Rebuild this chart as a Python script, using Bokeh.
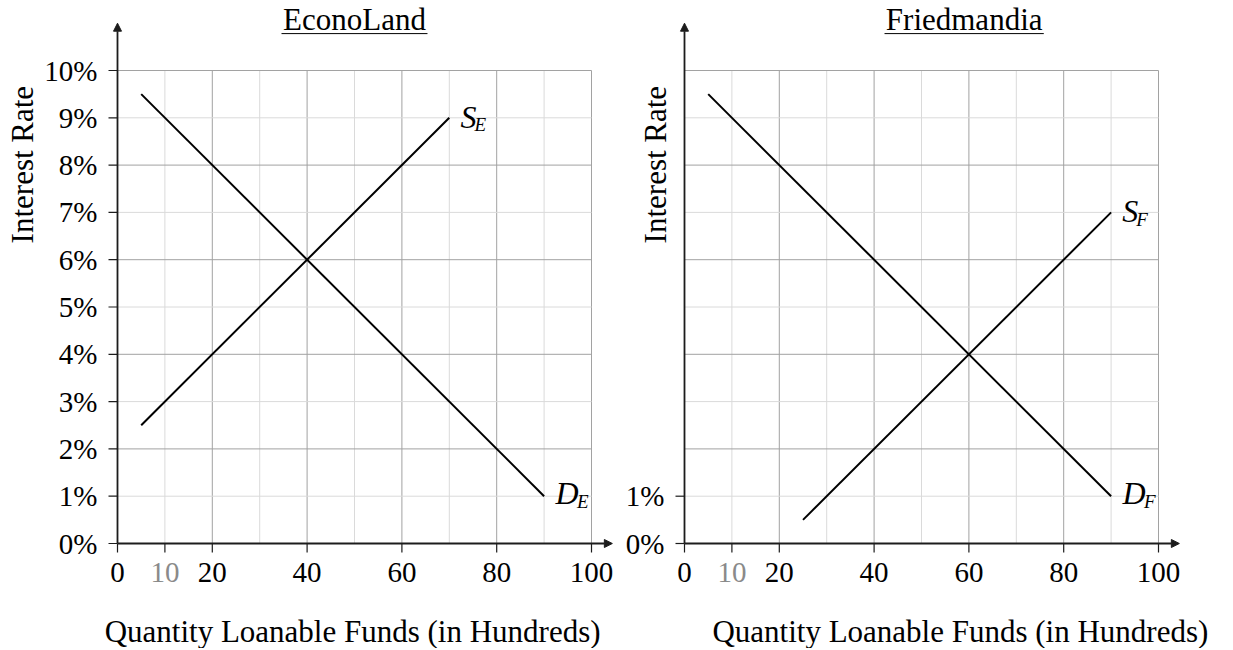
from bokeh.plotting import figure
from bokeh.models import Label, Arrow, NormalHead, Range1d, Grid
from bokeh.embed import file_html
from bokeh.resources import INLINE
from bokeh.core.properties import value

# ---------------- data ----------------
x_ticks = [0, 10, 20, 40, 60, 80, 100]
x_tick_labels = ["0", "10", "20", "40", "60", "80", "100"]
econ_y_ticks = [0, 1, 2, 3, 4, 5, 6, 7, 8, 9, 10]
econ_y_labels = ["0%", "1%", "2%", "3%", "4%", "5%", "6%", "7%", "8%", "9%", "10%"]
fried_y_ticks = [0, 1]
fried_y_labels = ["0%", "1%"]

grid_x_minor = [10, 30, 50, 70, 90]
grid_x_major = [20, 40, 60, 80, 100]
grid_y_minor = [1, 3, 5, 7, 9]
grid_y_major = [2, 4, 6, 8, 10]

econ_demand_q = [5, 90]
econ_demand_r = [9.5, 1]
econ_supply_q = [5, 70]
econ_supply_r = [2.5, 9]

fried_demand_q = [5, 90]
fried_demand_r = [9.5, 1]
fried_supply_q = [25, 90]
fried_supply_r = [0.5, 7]

# ---------------- layout / style ----------------
FONT = "Liberation Serif"
W, H = 1228, 648
PX_X = 4.74          # pixels per quantity unit
PX_Y = 47.3          # pixels per percentage point
LEFT_ORIGIN_X = 117  # canvas x of quantity 0, EconoLand
RIGHT_ORIGIN_X = 684 # canvas x of quantity 0, Friedmandia
ORIGIN_Y = 543       # canvas y of 0%
MAJOR = "#a2a2a2"
MINOR = "#dadada"
INK = "#1c1c1c"

p = figure(width=W, height=H,
           x_range=Range1d(-LEFT_ORIGIN_X / PX_X, (W - LEFT_ORIGIN_X) / PX_X),
           y_range=Range1d(-(H - ORIGIN_Y) / PX_Y, ORIGIN_Y / PX_Y),
           x_axis_type=None, y_axis_type=None, min_border=0,
           toolbar_location=None, output_backend="svg")
p.extra_x_ranges = {"fried": Range1d(-RIGHT_ORIGIN_X / PX_X, (W - RIGHT_ORIGIN_X) / PX_X)}
p.outline_line_color = None
p.background_fill_color = "white"
p.border_fill_color = "white"
for r in list(p.center) + list(p.below) + list(p.left):
    if isinstance(r, Grid):
        r.visible = False


def label(rn, x, y, text, size, align="center", italic=False, angle=0.0, color="black"):
    p.add_layout(Label(x=x, y=y, text=text, x_range_name=rn, text_align=align,
                       text_baseline="middle", text_font=FONT, text_font_size=size,
                       text_font_style="italic" if italic else "normal",
                       text_color=color, angle=angle))


def panel(rn, title, title_x, title_half, xlabel_x, ylabel_x, y_ticks, y_labels,
          demand, supply, sub):
    xmax = max(grid_x_major)
    ymax = max(grid_y_major)
    # grid
    for xs, col in ((grid_x_minor, MINOR), (grid_x_major, MAJOR)):
        p.segment(x0=xs, y0=[0] * len(xs), x1=xs, y1=[ymax] * len(xs),
                  line_color=col, line_width=1, x_range_name=rn)
    for ys, col in ((grid_y_minor, MINOR), (grid_y_major, MAJOR)):
        p.segment(x0=[0] * len(ys), y0=ys, x1=[xmax] * len(ys), y1=ys,
                  line_color=col, line_width=1, x_range_name=rn)

    # supply / demand curves
    dq, dr = demand
    sq, sr = supply
    p.line(dq, dr, line_color="black", line_width=2, x_range_name=rn)
    p.line(sq, sr, line_color="black", line_width=2, x_range_name=rn)

    # axes with arrow heads
    p.add_layout(Arrow(end=NormalHead(size=8, fill_color=INK, line_color=INK, line_width=1),
                       x_start=0, y_start=0, x_end=104.4, y_end=0, x_range_name=rn,
                       line_color=INK, line_width=1.8))
    p.add_layout(Arrow(end=NormalHead(size=8, fill_color=INK, line_color=INK, line_width=1),
                       x_start=0, y_start=0, x_end=0, y_end=11.0, x_range_name=rn,
                       line_color=INK, line_width=1.8))

    # tick marks
    tick_x = 9 / PX_X
    tick_y = 9 / PX_Y
    p.segment(x0=x_ticks, y0=[0] * len(x_ticks), x1=x_ticks, y1=[-tick_y] * len(x_ticks),
              line_color=INK, line_width=1.2, x_range_name=rn)
    p.segment(x0=[0] * len(y_ticks), y0=y_ticks, x1=[-tick_x] * len(y_ticks), y1=y_ticks,
              line_color=INK, line_width=1.2, x_range_name=rn)

    # tick labels
    colors = ["#8a8a8a" if t == 10 else "black" for t in x_ticks]
    p.text(x=x_ticks, y=[-29 / PX_Y] * len(x_ticks), text=x_tick_labels,
           text_align="center", text_baseline="middle", text_font=value(FONT),
           text_font_size=value("29px"), text_color=colors, x_range_name=rn)
    p.text(x=[-20 / PX_X] * len(y_ticks), y=y_ticks, text=y_labels,
           text_align="right", text_baseline="middle", text_font=value(FONT),
           text_font_size=value("29px"), text_color="black", x_range_name=rn)

    # panel title (underlined)
    label(rn, title_x, 11.08, title, "31px")
    p.segment(x0=[title_x - title_half], y0=[10.78], x1=[title_x + title_half], y1=[10.78],
              line_color="black", line_width=1, x_range_name=rn)

    # axis titles
    label(rn, xlabel_x, -1.87, "Quantity Loanable Funds (in Hundreds)", "31px")
    label(rn, ylabel_x, 8.01, "Interest Rate", "31px", angle=1.5707963)

    # curve labels
    label(rn, sq[-1] + 11.2 / PX_X, sr[-1] + 1.3 / PX_Y, "S", "32px", align="left", italic=True)
    label(rn, sq[-1] + 25.2 / PX_X, sr[-1] - 6.6 / PX_Y, sub, "19px", align="left", italic=True)
    label(rn, dq[-1] + 11.4 / PX_X, dr[-1] + 3.2 / PX_Y, "D", "32px", align="left", italic=True)
    label(rn, dq[-1] + 33.0 / PX_X, dr[-1] - 5.2 / PX_Y, sub, "19px", align="left", italic=True)


panel("default", "EconoLand", 50.0, 15.4, 49.6, -19.94, econ_y_ticks, econ_y_labels,
      (econ_demand_q, econ_demand_r), (econ_supply_q, econ_supply_r), "E")
panel("fried", "Friedmandia", 59.0, 16.8, 58.2, -6.22, fried_y_ticks, fried_y_labels,
      (fried_demand_q, fried_demand_r), (fried_supply_q, fried_supply_r), "F")

open("out.html", "w").write(file_html(p, INLINE))
